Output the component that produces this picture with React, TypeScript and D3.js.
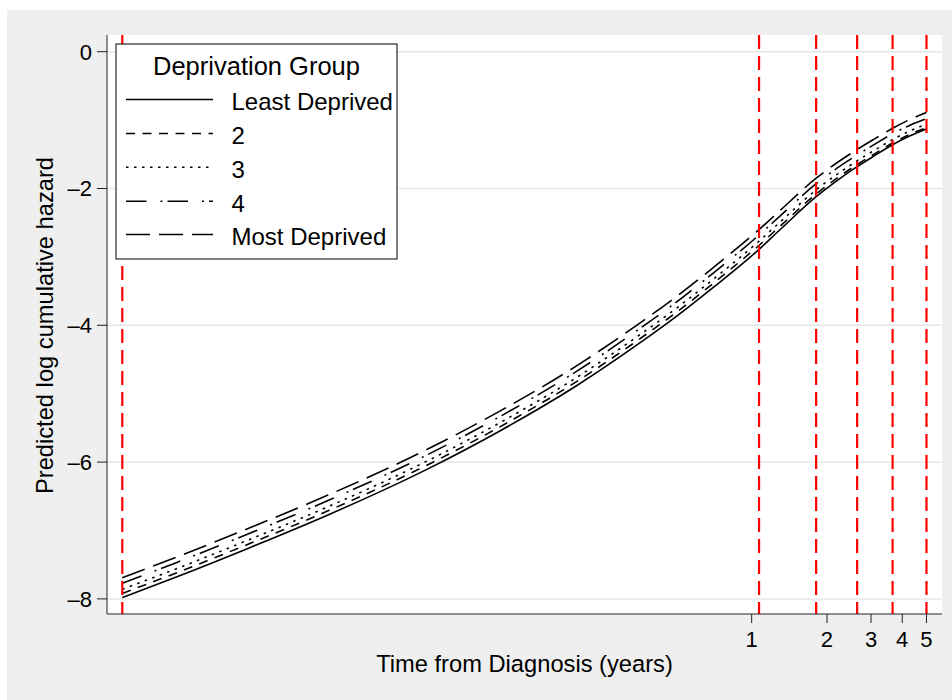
import React from "react";
import * as d3 from "d3";

// ---- data ----
const timeYears = [0.00304, 0.005, 0.01, 0.02, 0.05, 0.1, 0.2, 0.35, 0.5, 0.7, 1.07, 1.3, 1.81, 2.2, 2.64, 3.1, 3.66, 4.3, 5.0];
const leastDeprived = [-7.98, -7.68, -7.24, -6.78, -6.11, -5.53, -4.88, -4.28, -3.87, -3.45, -2.89, -2.60, -2.12, -1.88, -1.68, -1.52, -1.36, -1.23, -1.13];
const group2 = [-7.92, -7.62, -7.18, -6.72, -6.05, -5.47, -4.82, -4.22, -3.81, -3.39, -2.83, -2.55, -2.08, -1.845, -1.65, -1.493, -1.335, -1.208, -1.11];
const group3 = [-7.86, -7.56, -7.12, -6.66, -5.99, -5.41, -4.76, -4.16, -3.75, -3.33, -2.77, -2.49, -2.02, -1.79, -1.595, -1.44, -1.285, -1.158, -1.06];
const group4 = [-7.77, -7.47, -7.03, -6.57, -5.90, -5.32, -4.67, -4.07, -3.66, -3.24, -2.68, -2.40, -1.93, -1.70, -1.51, -1.355, -1.20, -1.075, -0.98];
const mostDeprived = [-7.69, -7.39, -6.95, -6.49, -5.82, -5.24, -4.59, -3.99, -3.58, -3.16, -2.60, -2.32, -1.85, -1.62, -1.43, -1.275, -1.12, -0.99, -0.89];

const seriesNames = ["Least Deprived", "2", "3", "4", "Most Deprived"];
const seriesValues = [leastDeprived, group2, group3, group4, mostDeprived];
const knotTimes = [0.00304, 1.07, 1.81, 2.64, 3.66, 5.0];
const xTicks = [1, 2, 3, 4, 5];
const yTicks = [0, -2, -4, -6, -8];
const xDomain = [0.002641, 5.768];
const yDomain = [-8.221, 0.244];

const dashPatterns = ["", "9,7.5", "2.5,5.5", "20.5,14,2,5", "24,9"];

const FONT = "'Liberation Sans', Arial, Helvetica, sans-serif";

export default function App() {
  const W = 952, H = 700;
  const left = 107, right = 942, top = 35, bottom = 614;
  const x = d3.scaleLog().domain(xDomain).range([left, right]);
  const y = d3.scaleLinear().domain(yDomain).range([bottom, top]);

  const line = d3
    .line<number>()
    .x((_, i) => x(timeYears[i]))
    .y((d) => y(d))
    .curve(d3.curveMonotoneX);

  const fmt = (v: number) => (v < 0 ? "\u2013" + Math.abs(v) : String(v));

  const legX = 116, legY = 44, legW = 281, legH = 215;
  const legRowBase = [110, 144, 177.7, 211.7, 245];

  return (
    <svg width={W} height={H} style={{ position: "absolute", left: 0, top: 0 }} fontFamily={FONT}>
      <rect x={0} y={0} width={W} height={H} fill="#ffffff" />
      <rect x={7} y={10} width={W - 7} height={H - 10} fill="#efefef" />
      <rect x={left} y={top} width={right - left} height={bottom - top} fill="#ffffff" />

      {/* gridlines */}
      {yTicks.map((t) => (
        <line key={"g" + t} x1={left} x2={right} y1={y(t)} y2={y(t)} stroke="#e6e6e6" strokeWidth={1.5} />
      ))}

      {/* curves */}
      {seriesValues.map((vals, i) => (
        <path
          key={"s" + i}
          d={line(vals) || ""}
          fill="none"
          stroke="#000"
          strokeWidth={1.6}
          strokeDasharray={dashPatterns[i] || undefined}
        />
      ))}

      {/* knot lines */}
      {knotTimes.map((k, i) => (
        <line
          key={"k" + i}
          x1={x(k)}
          x2={x(k)}
          y1={top}
          y2={bottom}
          stroke="#ff0000"
          strokeWidth={2.2}
          strokeDasharray="14,7"
        />
      ))}

      {/* axes */}
      <line x1={left} x2={left} y1={top} y2={bottom} stroke="#222" strokeWidth={1} />
      <line x1={left} x2={right} y1={bottom} y2={bottom} stroke="#222" strokeWidth={1} />
      {yTicks.map((t) => (
        <g key={"yt" + t}>
          <line x1={left - 10} x2={left} y1={y(t)} y2={y(t)} stroke="#222" strokeWidth={1} />
          <text x={92} y={y(t) + 8} fontSize={22} textAnchor="end" fill="#000">
            {fmt(t)}
          </text>
        </g>
      ))}
      {xTicks.map((t) => (
        <g key={"xt" + t}>
          <line x1={x(t)} x2={x(t)} y1={bottom} y2={bottom + 9} stroke="#222" strokeWidth={1} />
          <text x={x(t)} y={646.7} fontSize={22} textAnchor="middle" fill="#000">
            {t}
          </text>
        </g>
      ))}

      {/* axis titles */}
      <text x={(left + right) / 2} y={671.7} fontSize={23.7} textAnchor="middle" fill="#000">
        Time from Diagnosis (years)
      </text>
      <text
        transform={`translate(53,${(top + bottom) / 2 + 1}) rotate(-90)`}
        fontSize={23.7}
        textAnchor="middle"
        fill="#000"
      >
        Predicted log cumulative hazard
      </text>

      {/* legend */}
      <rect x={legX} y={legY} width={legW} height={legH} fill="#fff" stroke="#000" strokeWidth={1} />
      <text x={legX + legW / 2} y={75} fontSize={25.5} textAnchor="middle" fill="#000">
        Deprivation Group
      </text>
      {seriesNames.map((name, i) => (
        <g key={"l" + i}>
          <line
            x1={126}
            x2={213}
            y1={legRowBase[i] - 10.5}
            y2={legRowBase[i] - 10.5}
            stroke="#000"
            strokeWidth={1.6}
            strokeDasharray={dashPatterns[i] || undefined}
          />
          <text x={231.5} y={legRowBase[i]} fontSize={24} fill="#000">
            {name}
          </text>
        </g>
      ))}
    </svg>
  );
}
